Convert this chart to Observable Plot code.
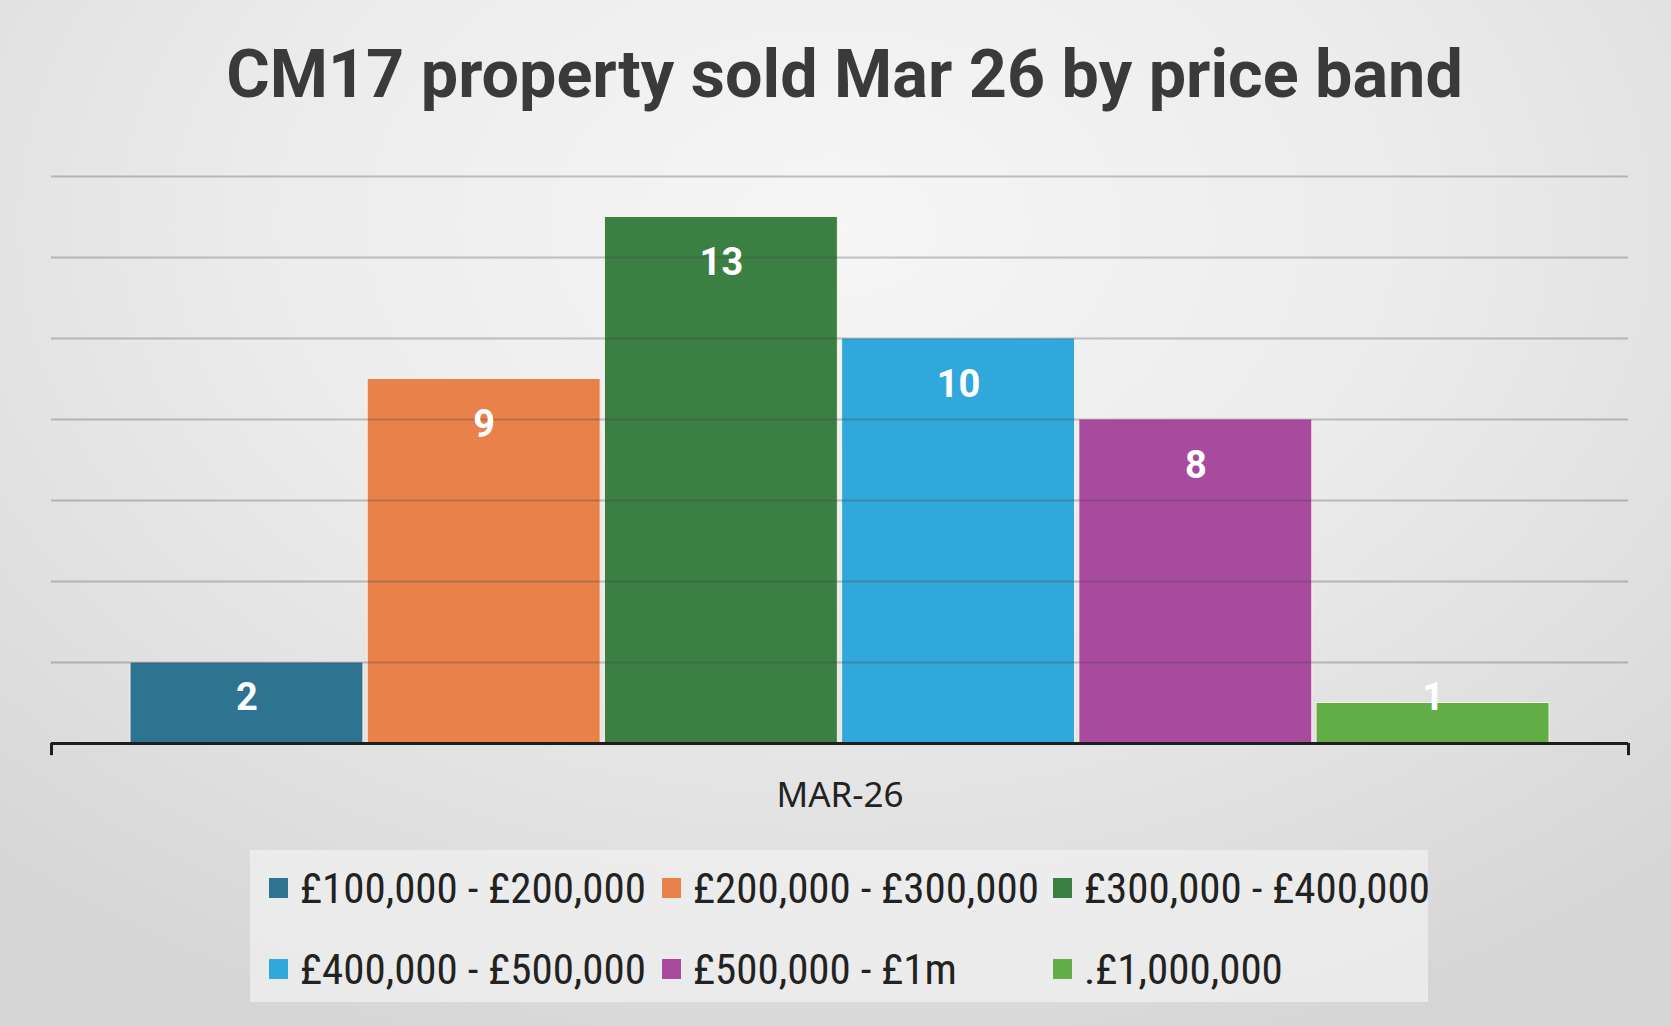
<!DOCTYPE html>
<html>
<head>
<meta charset="utf-8">
<script src="https://cdn.jsdelivr.net/npm/d3@7"></script>
<script src="https://cdn.jsdelivr.net/npm/@observablehq/plot@0.6"></script>
<style>
  html, body { margin: 0; padding: 0; overflow: hidden; }
  body {
    width: 1671px; height: 1026px; position: relative;
    background: radial-gradient(ellipse 75% 85% at 50% 22%, #f6f6f6 0%, #ececec 45%, #d6d6d6 100%);
    font-family: "Noto Sans", sans-serif;
  }
  #title {
    position: absolute; left: 9px; top: 0; width: 1671px; height: 150px;
    text-align: center; font-family: Roboto, "Noto Sans", sans-serif; font-weight: 700;
    font-size: 66.5px; line-height: 66px; padding-top: 41px; box-sizing: border-box;
    color: #3a3a3a;
  }
  #chart { position: absolute; left: 0; top: 150px; }
  #legend {
    position: absolute; left: 250px; top: 850px; width: 1178px; height: 152px;
    background: rgba(240,240,240,0.75);
    box-sizing: border-box; padding-left: 19px;
    display: grid; grid-template-columns: 393px 391px 380px; grid-template-rows: 76px 86px;
  }
  .item { display: flex; align-items: center; font-family: "Liberation Sans Narrow", "Roboto Condensed", "Liberation Sans", sans-serif; font-size: 43px; color: #222; white-space: nowrap; }
  .sw { width: 19px; height: 20px; margin-right: 12px; flex: none; }
</style>
</head>
<body>
<div id="title"></div>
<div id="chart"></div>
<div id="legend"></div>
<script>
const titleText = "CM17 property sold Mar 26 by price band";
const period = "MAR-26";
const bands = ["£100,000 - £200,000", "£200,000 - £300,000", "£300,000 - £400,000", "£400,000 - £500,000", "£500,000 - £1m", ".£1,000,000"];
const sold = [2, 9, 13, 10, 8, 1];
const colors = ["#2f7393", "#e8814a", "#3b7f43", "#31a8dc", "#a84a9e", "#62ad46"];
const gridValues = [2, 4, 6, 8, 10, 12, 14];

document.getElementById("title").textContent = titleText;

const data = bands.map((b, i) => ({band: b, value: sold[i], i}));
const half = 0.491;
const xDomain = [-0.824, 5.824];

const chart = Plot.plot({
  width: 1671,
  height: 690,
  marginLeft: 51,
  marginRight: 43,
  marginTop: 26,
  marginBottom: 97,
  style: {background: "transparent", fontFamily: "'Noto Sans', sans-serif"},
  x: {domain: xDomain, axis: null},
  y: {domain: [0, 14], axis: null},
  color: {domain: bands, range: colors},
  marks: [
    Plot.rectY(data, {x1: d => d.i - half, x2: d => d.i + half, y1: 0, y2: "value", fill: "band", stroke: "#f7f1e6", strokeWidth: 1}),
    Plot.ruleY(gridValues, {stroke: "#444", strokeOpacity: 0.3, strokeWidth: 2}),
    Plot.text(data, {x: "i", y: d => Math.max(d.value, 2.27), dy: 46, text: d => String(d.value), fill: "white", fontSize: 38, fontWeight: 700, lineAnchor: "middle", fontFamily: "Roboto, 'Noto Sans', sans-serif"}),
    Plot.ruleY([0], {stroke: "#1e1e1e", strokeWidth: 3}),
    Plot.ruleX(xDomain, {y1: 0, y2: -0.3, stroke: "#1e1e1e", strokeWidth: 3}),
    Plot.axisX({ticks: [2.5], tickFormat: () => period, tickSize: 0, tickPadding: 39, fontSize: 35, fill: "#222", label: null})
  ]
});
document.getElementById("chart").appendChild(chart);

const legend = document.getElementById("legend");
bands.forEach((b, i) => {
  const item = document.createElement("div");
  item.className = "item";
  const sw = document.createElement("span");
  sw.className = "sw";
  sw.style.background = colors[i];
  const label = document.createElement("span");
  label.textContent = b;
  item.appendChild(sw);
  item.appendChild(label);
  legend.appendChild(item);
});
</script>
</body>
</html>
